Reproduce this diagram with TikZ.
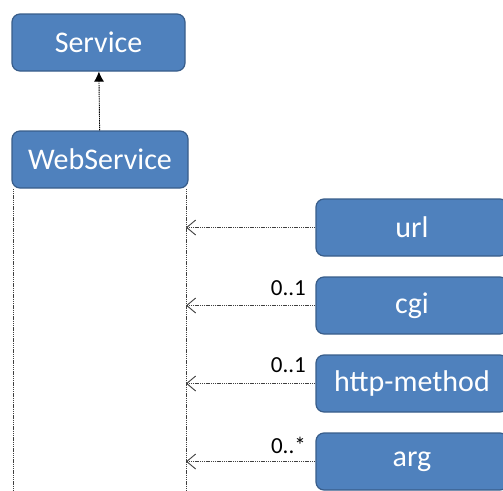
\documentclass[tikz,border=0pt]{standalone}
\usepackage{fontspec}
\setmainfont{Carlito}
\usetikzlibrary{arrows.meta}
\definecolor{boxblue}{HTML}{4F81BD}
\definecolor{boxedge}{HTML}{385D8A}
\begin{document}
\begin{tikzpicture}[x=1pt,y=-1pt,
	classbox/.style={draw=boxedge, line width=1.2pt, fill=boxblue, rounded corners=8pt,
		text=white, font=\fontsize{30}{36}\selectfont, minimum height=57pt, inner sep=0pt},
	dep/.style={draw=gray!50!black, line width=0.9pt, dash pattern=on 1.4pt off 0.8pt},
	mult/.style={font=\fontsize{23}{27}\selectfont, anchor=south east, inner sep=0pt}]
	\useasboundingbox (0,0) rectangle (503,490);
	\clip (0,0) rectangle (503,490);

 \node[classbox, minimum width=173pt] (service) at (98.5, 42.5) {Service};
 \node[classbox, minimum width=176pt] (webservice) at (100, 159.5) {WebService};

 \draw[dep, -{Latex[length=10pt,width=10pt]}, draw=black] (webservice) -- (service);

 \coordinate (wsL) at (13, 495);
 \coordinate (wsR) at (186, 495);
 \draw[dep] (webservice.south west -| wsL) -- (wsL);
 \draw[dep] (webservice.south east -| wsR) -- (wsR);

 \node[classbox, minimum width=192pt] (url) at (412, 227.5) {url};
 \node[classbox, minimum width=192pt] (cgi) at (412, 305.5) {cgi};
 \node[classbox, minimum width=192pt] (method) at (412, 383.5) {http-method};
 \node[classbox, minimum width=192pt] (arg) at (412, 461.5) {arg};

 \foreach \b in {url, cgi, method, arg}
 	\draw[dep, -{Straight Barb[length=9pt,width=15pt]}] (\b.west) -- (\b.west -| wsR);

 \node[mult] (cgimult) at (306, 296) {0..1};
 \node[mult] (methodmult) at (306, 373) {0..1};
 \node[mult] (argmult) at (306, 454) {0..*};
\end{tikzpicture}
\end{document}
